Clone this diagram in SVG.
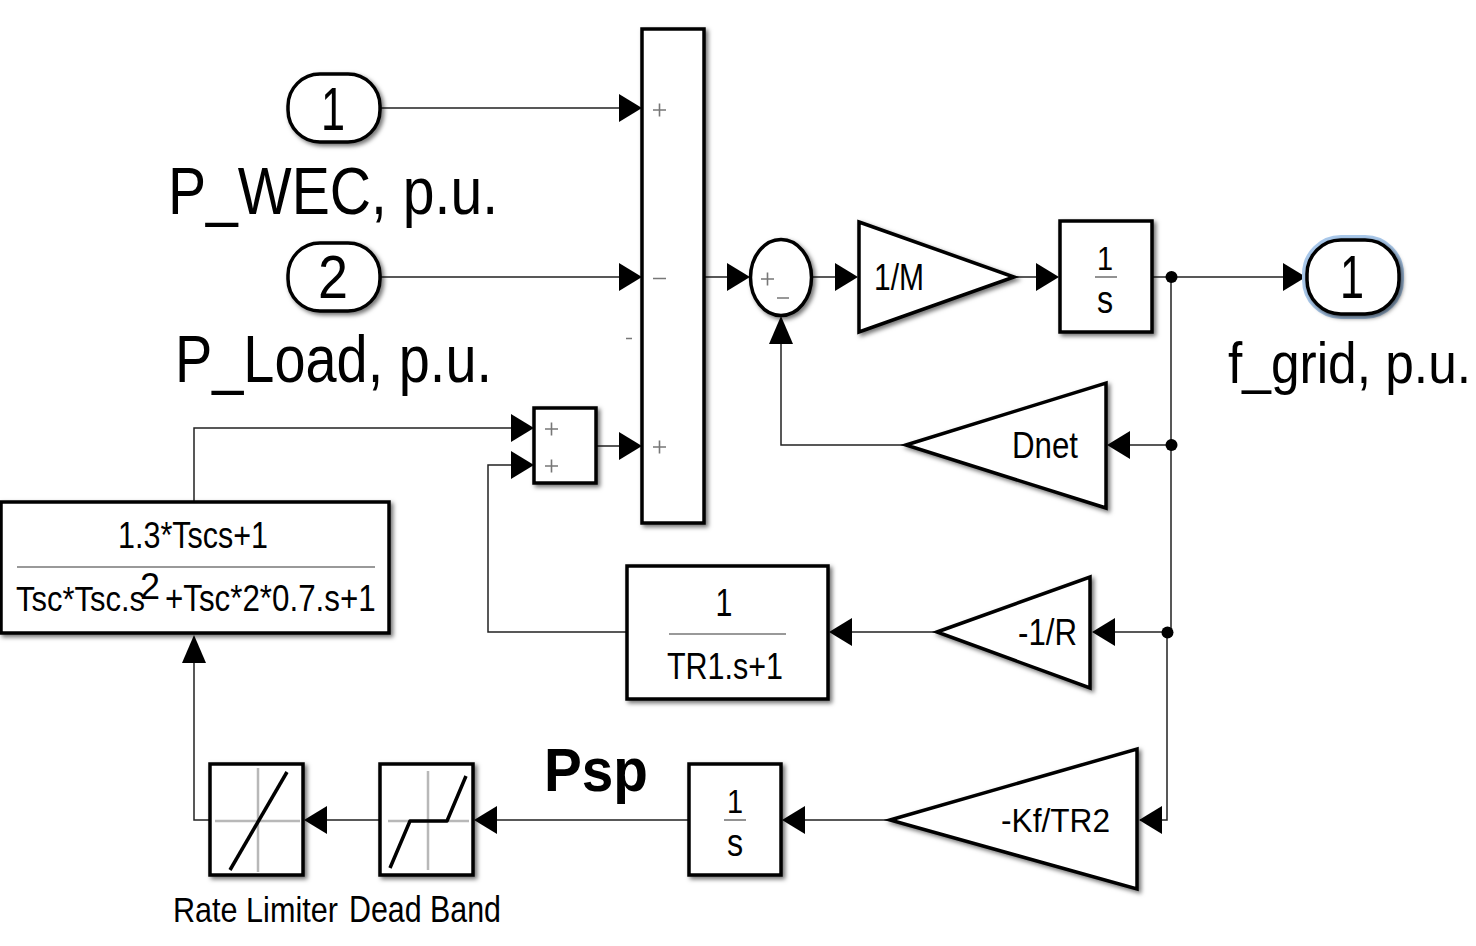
<svg xmlns="http://www.w3.org/2000/svg" width="1476" height="946" viewBox="0 0 1476 946">
<style>
.b{fill:#fff;stroke:#000;stroke-width:3.5;filter:url(#sh)}
.c{fill:none;stroke:#222;stroke-width:1.5}
.g{fill:none;stroke:#b8b8b8;stroke-width:2.5}
.k{fill:none;stroke:#000;stroke-width:3.5}
.h{fill:#000;stroke:none}
.t{font-family:"Liberation Sans",Arial,sans-serif;fill:#000}
.m{text-anchor:middle}
.r{fill:none;stroke:#777;stroke-width:1.6}
</style>
<defs>
<filter id="sh" x="-15%" y="-15%" width="130%" height="130%"><feDropShadow dx="2.5" dy="2.5" stdDeviation="2" flood-color="#000" flood-opacity="0.55"/></filter>
<path id="ar" d="M-23,-14 L0,0 L-23,14 Z"/>
<path id="au" d="M-12,28 L0,0 L12,28 Z"/>
</defs>
<g id="connectors">
<path class="c" d="M381,108H620M381,277H620M704,277H728M812,277H836M1014,277H1038M1152,277H1284"/>
<path class="c" d="M1171,277V632M1167,632V820H1140M1171,445H1130M1167,632H1115"/>
<path class="c" d="M906,445H781V342"/>
<path class="c" d="M937,632H850M627,632H488V465H512"/>
<path class="c" d="M194,502V428H512M596,446H620"/>
<path class="c" d="M890,820H805M689,820H495M380,820H325M210,820H194V660"/>
<g class="h">
<use href="#ar" x="642" y="108"/><use href="#ar" x="642" y="277"/><use href="#ar" x="642" y="446"/>
<use href="#ar" x="750" y="277"/><use href="#ar" x="858" y="277"/><use href="#ar" x="1059" y="277"/><use href="#ar" x="1306" y="277"/>
<use href="#ar" x="534" y="428"/><use href="#ar" x="534" y="465"/>
<use href="#au" x="781" y="316"/>
<use href="#ar" transform="translate(1107,445) rotate(180)"/>
<use href="#ar" transform="translate(1092,632) rotate(180)"/>
<use href="#ar" transform="translate(829,632) rotate(180)"/>
<use href="#ar" transform="translate(1139,820) rotate(180)"/>
<use href="#ar" transform="translate(782,820) rotate(180)"/>
<use href="#ar" transform="translate(474,820) rotate(180)"/>
<use href="#ar" transform="translate(304,820) rotate(180)"/>
<use href="#au" x="194" y="635"/>
<circle cx="1171.500" cy="277" r="6"/><circle cx="1171.500" cy="445" r="6"/><circle cx="1167.500" cy="632.500" r="6"/>
</g>
</g>
<g id="in1"><rect class="b" x="288" y="74" width="92" height="68" rx="32"/><text class="t m" x="333" y="130" font-size="62" textLength="24" lengthAdjust="spacingAndGlyphs">1</text>
<text class="t" x="168" y="214" font-size="66" textLength="330" lengthAdjust="spacingAndGlyphs">P_WEC, p.u.</text></g>
<g id="in2"><rect class="b" x="288" y="243" width="92" height="68" rx="32"/><text class="t m" x="333" y="298" font-size="62" textLength="30" lengthAdjust="spacingAndGlyphs">2</text>
<text class="t" x="175" y="382" font-size="66" textLength="317" lengthAdjust="spacingAndGlyphs">P_Load, p.u.</text></g>
<g id="sum1"><rect class="b" x="642" y="29" width="62" height="494"/>
<path class="r" d="M653,110H666M659.500,103.500V116.500M653,278.500H666M653,447H666M659.500,440.500V453.500M626,338.500H632"/></g>
<g id="sum2"><ellipse class="b" cx="781" cy="277.500" rx="30.500" ry="38"/><path class="r" d="M761,279H774M767.500,272.500V285.500M777,298H789"/></g>
<g id="gain-m"><path class="b" d="M859,222L1014,277L859,332Z"/><text class="t" x="874" y="290" font-size="36" textLength="50" lengthAdjust="spacingAndGlyphs">1/M</text></g>
<g id="int1"><rect class="b" x="1060" y="221" width="92" height="111"/><path class="r" d="M1095,277H1117"/><text class="t m" transform="translate(1105,270) scale(.85,1)" font-size="34">1</text><text class="t m" transform="translate(1105,313) scale(.85,1)" font-size="38">s</text></g>
<g id="out1"><rect x="1305" y="238" width="96" height="78" rx="36" fill="none" stroke="#a9c8ea" stroke-width="6"/><rect class="b" x="1307" y="240" width="92" height="74" rx="34"/><text class="t m" x="1352" y="298" font-size="62" textLength="24" lengthAdjust="spacingAndGlyphs">1</text>
<text class="t" transform="translate(1228,383) scale(.887,1)" font-size="58">f_grid, p.u.</text></g>
<g id="sum3"><rect class="b" x="534" y="408" width="62" height="75"/><path class="r" d="M545,429H558M551.500,422.500V435.500M545,466H558M551.500,459.500V472.500"/></g>
<g id="dnet"><path class="b" d="M906,445L1106,383V508Z"/><text class="t" x="1012" y="458" font-size="36" textLength="66" lengthAdjust="spacingAndGlyphs">Dnet</text></g>
<g id="r-gain"><path class="b" d="M937,632L1090,577V688Z"/><text class="t" x="1018" y="645" font-size="36" textLength="59" lengthAdjust="spacingAndGlyphs">-1/R</text></g>
<g id="tf1"><rect class="b" x="627" y="566" width="201" height="133"/><path class="r" d="M669,634H786"/><text class="t m" transform="translate(724,616) scale(.8,1)" font-size="38">1</text><text class="t m" x="725" y="679" font-size="36" textLength="116" lengthAdjust="spacingAndGlyphs">TR1.s+1</text></g>
<g id="kf"><path class="b" d="M890,820L1137,749V889Z"/><text class="t" x="1001" y="832" font-size="34" textLength="109" lengthAdjust="spacingAndGlyphs">-Kf/TR2</text></g>
<g id="int2"><rect class="b" x="689" y="764" width="92" height="111"/><path class="r" d="M724,820H746"/><text class="t m" transform="translate(735,813) scale(.85,1)" font-size="34">1</text><text class="t m" transform="translate(735,856) scale(.85,1)" font-size="38">s</text></g>
<g id="dead"><rect class="b" x="380" y="764" width="93" height="111"/><path class="g" d="M428,771V870M388,821H469"/><path class="k" stroke-linejoin="round" d="M390,868L410,821H447L466,776"/><text class="t" transform="translate(349,922) scale(.844,1)" font-size="36">Dead Band</text></g>
<g id="rate"><rect class="b" x="210" y="764" width="93" height="111"/><path class="g" d="M258,768V872M215,821H300"/><path class="k" d="M230,870L287,772"/><text class="t" transform="translate(173,922) scale(.85,1)" font-size="36">Rate Limiter</text></g>
<g id="tf2"><rect class="b" x="1" y="502" width="388" height="131"/><path class="r" d="M17,567H375"/><text class="t m" x="193" y="548" font-size="36" textLength="150" lengthAdjust="spacingAndGlyphs">1.3*Tscs+1</text><text class="t" transform="translate(16,611) scale(.86,1)" font-size="36">Tsc*Tsc.s</text><text class="t" transform="translate(165,611) scale(.87,1)" font-size="36">+Tsc*2*0.7.s+1</text><text class="t m" x="150" y="599" font-size="36">2</text></g>
<text id="psp" class="t" x="544" y="791" font-size="62" font-weight="bold" textLength="104" lengthAdjust="spacingAndGlyphs">Psp</text>
</svg>
